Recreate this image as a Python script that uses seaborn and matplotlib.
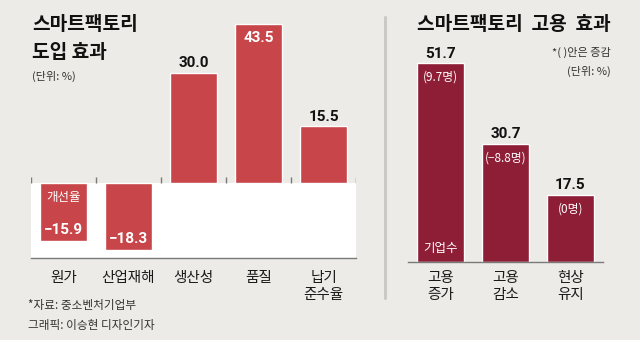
import matplotlib
matplotlib.use("Agg")
import matplotlib.pyplot as plt
import seaborn as sns
import pandas as pd
from matplotlib.lines import Line2D

# ---------------- data ----------------
left_categories = ["원가", "산업재해", "생산성", "품질", "납기\n준수율"]
left_values = [-15.9, -18.3, 30.0, 43.5, 15.5]
right_categories = ["고용\n증가", "고용\n감소", "현상\n유지"]
right_values = [51.7, 30.7, 17.5]
right_changes = ["(9.7명)", "(−8.8명)", "(0명)"]

# ---------------- style ----------------
sns.set_theme(style="white")
KR = ["Noto Sans CJK KR", "DejaVu Sans"]
NUM = ["Roboto", "Noto Sans CJK KR", "DejaVu Sans"]
plt.rcParams["font.family"] = KR
BG = "#ecebe7"
RED = "#c8464a"
CRIMSON = "#8e1d36"
AXC = "#7a7a7a"

W, H = 640, 340
fig = plt.figure(figsize=(6.4, 3.4), dpi=100, facecolor=BG)


def fx(x):
    return x / W


def fy(y):
    return 1 - y / H


def rect(x0, y_top, x1, y_bot):
    return [fx(x0), fy(y_bot), (x1 - x0) / W, (y_bot - y_top) / H]


def fmt(v):
    return f"{v:.1f}".replace("-", "−")


# ---------------- left panel ----------------
axL = fig.add_axes(rect(31, 18, 356, 258))
axL.set_facecolor("none")
dfL = pd.DataFrame({"cat": left_categories, "val": left_values})
axL.axhspan(-20.4, 0, color="white", zorder=0, lw=0)
sns.barplot(data=dfL, x="cat", y="val", color=RED, saturation=1, width=0.72,
            ax=axL, zorder=2)
axL.set_ylim(-20.4, 45.0)
axL.set_xlim(-0.5, len(left_categories) - 0.5)
for s in ["top", "right", "left"]:
    axL.spines[s].set_visible(False)
axL.spines["bottom"].set_color(AXC)
axL.spines["bottom"].set_linewidth(1)
axL.set_xlabel("")
axL.set_ylabel("")
axL.set_yticks([])
axL.tick_params(axis="x", which="major", length=0, pad=9.5, labelsize=10.5,
                labelcolor="#1a1a1a")
bounds = [i - 0.5 for i in range(len(left_categories) + 1)]
axL.set_xticks(bounds, minor=True)
axL.tick_params(axis="x", which="minor", direction="out", length=4.5,
                color=AXC, width=1)
for lab in axL.get_xticklabels():
    lab.set_linespacing(1.3)
    lab.set_verticalalignment("top")
# small ticks above zero line
axL.vlines(bounds, 0, 1.6, color=AXC, lw=1, zorder=1)

vmax = max(left_values)
for i, v in enumerate(left_values):
    if v == vmax:
        axL.annotate(fmt(v), (i, v), xytext=(0, -10.5), textcoords="offset points",
                     ha="center", va="center", color="white", fontsize=11,
                     fontweight="bold", family=NUM, zorder=5)
    elif v >= 0:
        axL.annotate(fmt(v), (i, v), xytext=(0, 7), textcoords="offset points",
                     ha="center", va="center", color="#111111", fontsize=11,
                     fontweight="bold", family=NUM, zorder=5)
    else:
        axL.annotate(fmt(v), (i, v), xytext=(0, 8), textcoords="offset points",
                     ha="center", va="center", color="white", fontsize=11,
                     fontweight="bold", family=NUM, zorder=5)
axL.annotate("개선율", (0, 0), xytext=(0, -10), textcoords="offset points",
             ha="center", va="center", color="white", fontsize=9, zorder=5)

# ---------------- right panel ----------------
axR = fig.add_axes(rect(408, 18, 603, 262))
axR.set_facecolor("none")
dfR = pd.DataFrame({"cat": right_categories, "val": right_values})
sns.barplot(data=dfR, x="cat", y="val", color=CRIMSON, saturation=1, width=0.72,
            ax=axR, zorder=2)
axR.set_ylim(0, 63.5)
axR.set_xlim(-0.5, len(right_categories) - 0.5)
for s in ["top", "right", "left"]:
    axR.spines[s].set_visible(False)
axR.spines["bottom"].set_color(AXC)
axR.spines["bottom"].set_linewidth(1)
axR.set_xlabel("")
axR.set_ylabel("")
axR.set_yticks([])
axR.tick_params(axis="x", which="major", length=0, pad=6.5, labelsize=10.5,
                labelcolor="#1a1a1a")
rb = [i - 0.5 for i in range(len(right_categories) + 1)]
axR.set_xticks(rb, minor=True)
axR.tick_params(axis="x", which="minor", direction="in", length=3.5,
                color=AXC, width=1)
for lab in axR.get_xticklabels():
    lab.set_linespacing(1.3)
    lab.set_verticalalignment("top")

for i, (v, c) in enumerate(zip(right_values, right_changes)):
    axR.annotate(fmt(v), (i, v), xytext=(0, 7), textcoords="offset points",
                 ha="center", va="center", color="#111111", fontsize=11,
                 fontweight="bold", family=NUM, zorder=5)
    axR.annotate(c, (i, v), xytext=(0, -10), textcoords="offset points",
                 ha="center", va="center", color="white", fontsize=8.5, zorder=5)
axR.annotate("기업수", (0, 0), xytext=(0, 9.5), textcoords="offset points",
             ha="center", va="center", color="white", fontsize=9, zorder=5)

# ---------------- separator ----------------
fig.add_artist(Line2D([fx(385), fx(385)], [fy(17), fy(298)], color="#c9c9c7",
                      lw=2.2, transform=fig.transFigure))

# ---------------- texts ----------------
fig.text(fx(32), fy(25), "스마트팩토리", ha="left", va="center", fontsize=13.8,
         fontweight="bold", color="#111111")
fig.text(fx(32), fy(52), "도입 효과", ha="left", va="center", fontsize=13.8,
         fontweight="bold", color="#111111")
fig.text(fx(32), fy(76), "(단위: %)", ha="left", va="center", fontsize=8,
         color="#333333")

fig.text(fx(611), fy(25), "스마트팩토리  고용  효과", ha="right", va="center",
         fontsize=13.8, fontweight="bold", color="#111111")
fig.text(fx(611), fy(52), "*( )안은 증감", ha="right", va="center", fontsize=8,
         color="#333333")
fig.text(fx(611), fy(71), "(단위: %)", ha="right", va="center", fontsize=8,
         color="#333333")

fig.text(fx(28), fy(306), "*자료: 중소벤처기업부", ha="left", va="center",
         fontsize=8.4, color="#333333")
fig.text(fx(28), fy(325), "그래픽: 이승현 디자인기자", ha="left", va="center",
         fontsize=8.4, color="#333333")

fig.savefig("out.png", dpi=100, facecolor=BG)
